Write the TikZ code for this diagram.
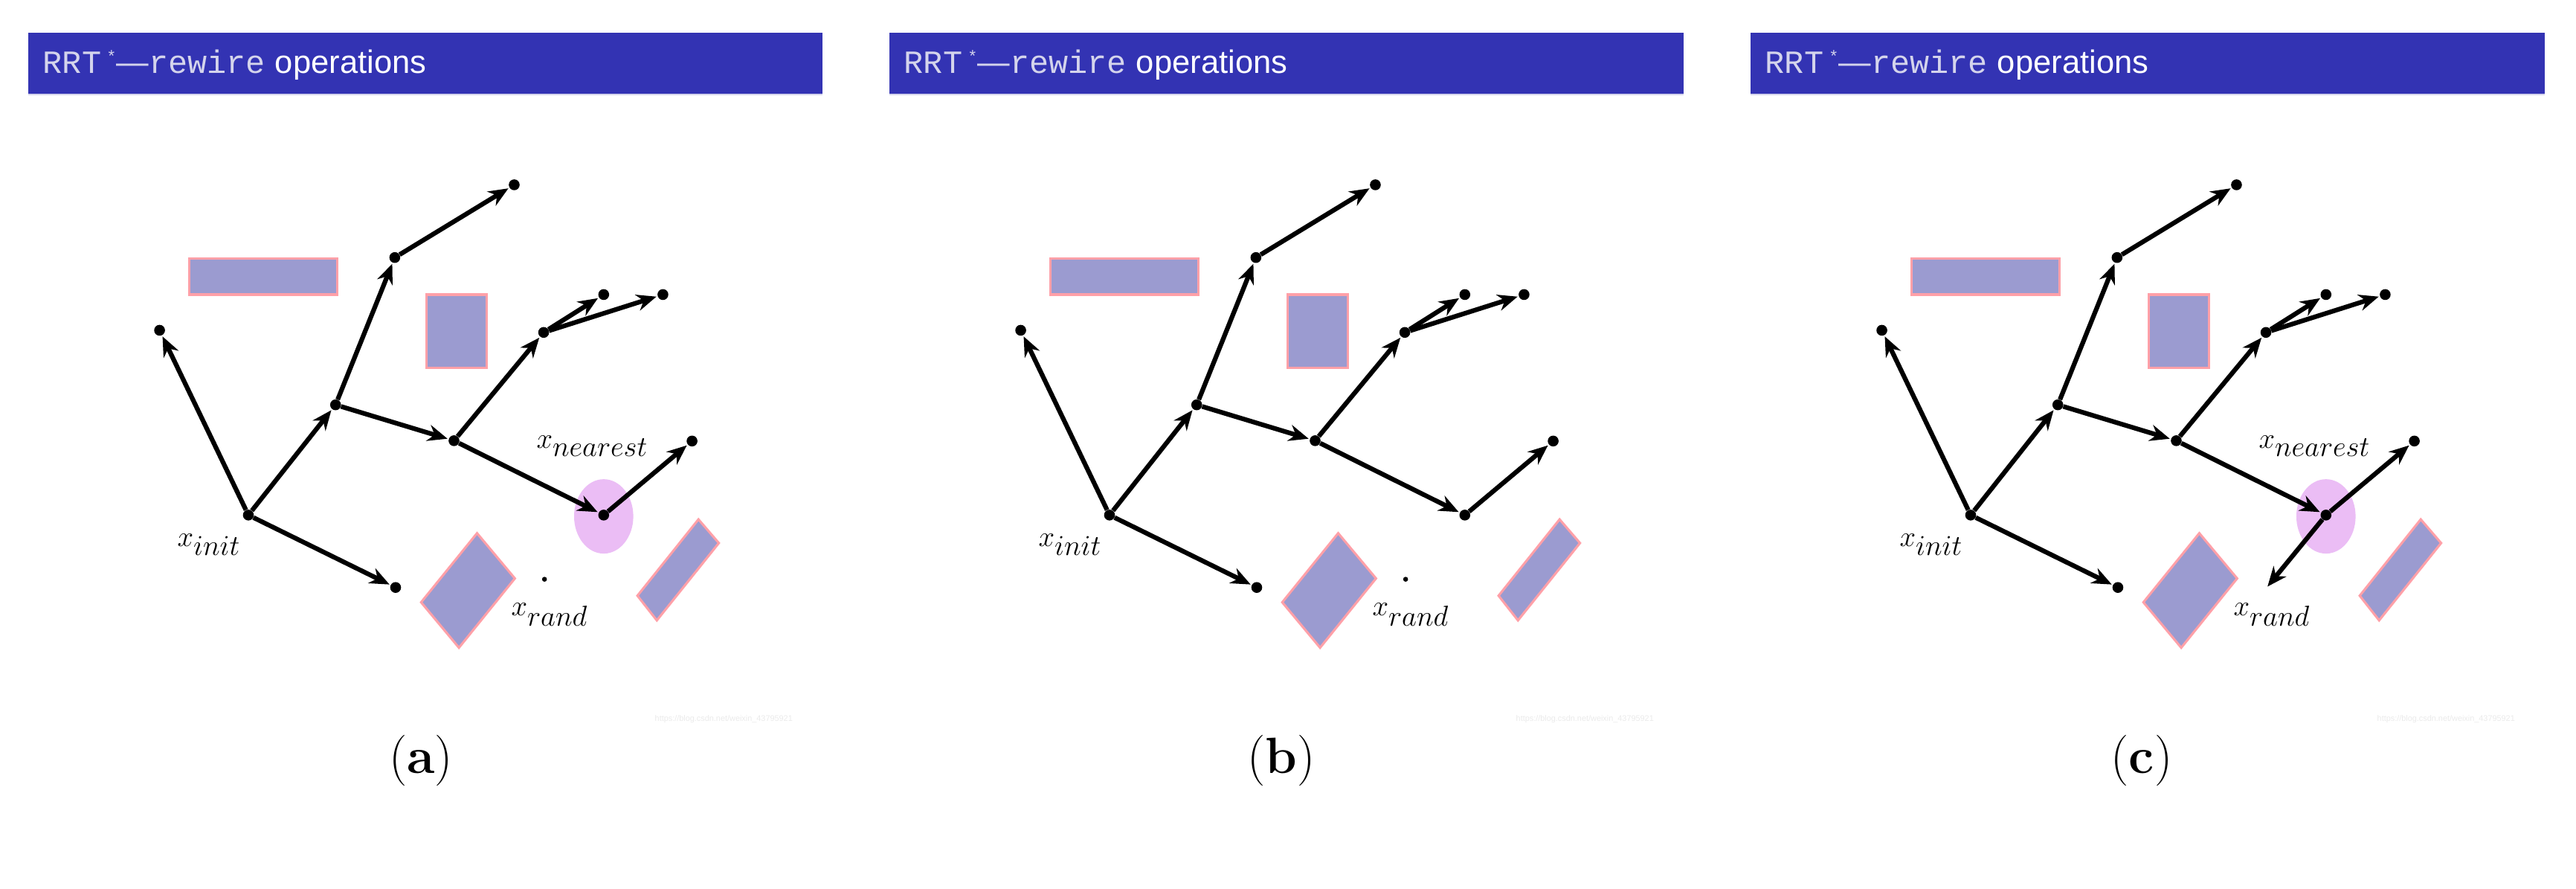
\documentclass[tikz,border=0pt]{standalone}
\usepackage{fontspec}
\setmainfont{Latin Modern Roman}
\newfontfamily\hsans{Liberation Sans}
\newfontfamily\hmono{Liberation Mono}
\usetikzlibrary{arrows.meta}
\definecolor{hdr}{HTML}{3333B3}
\definecolor{obs}{HTML}{9B9BD0}
\definecolor{obsb}{HTML}{FFA0A8}
\definecolor{ell}{HTML}{EBBDF5}
\definecolor{hmt}{HTML}{D4D4EC}
\tikzset{
  dot/.style={circle,fill=black,inner sep=0pt,minimum size=0.33cm},
  edge/.style={line width=4pt,-{Stealth[length=0.6cm,width=0.5cm]},shorten >=1pt},
  obstacle/.style={fill=obs,draw=obsb,line width=2pt},
  lbl/.style={font=\fontsize{42}{50}\selectfont},
  panelcap/.style={font=\fontsize{44}{52}\selectfont},
}
\newcommand{\rrtpanel}[3]{%
\begin{scope}[xshift=#1*0.05cm]
  \fill[hdr] (17,20) rectangle (500,57);
  \draw[hmt,line width=1pt] (17,57.5) -- (500,57.5);
  \node[anchor=west,text=white,inner sep=0pt] (#2-title) at (26,39.5)
    {\fontsize{28}{32}\selectfont{\hmono\color{hmt}RRT\,\raisebox{0.35em}{\fontsize{14}{16}\selectfont*}}{\hsans\color{hmt}—}{\hmono\color{hmt}rewire} {\hsans operations}};
  \draw[obstacle] (115,157) rectangle (205,179);
  \draw[obstacle] (259.3,179) rectangle (296,223.6);
  \draw[obstacle] (290,324) -- (313,351.5) -- (279,393.6) -- (256,366) -- cycle;
  \draw[obstacle] (424.6,315.6) -- (437,330) -- (399.3,377) -- (387.5,362) -- cycle;
  \ifnum#3=1 \fill[ell] (367,313.8) ellipse [x radius=18, y radius=22.6];\fi
  \ifnum#3=3 \fill[ell] (367,313.8) ellipse [x radius=18, y radius=22.6];\fi
  \node[dot] (#2-i) at (151,313) {};
  \node[dot] (#2-L) at (97,200.7) {};
  \node[dot] (#2-A) at (204,246) {};
  \node[dot] (#2-B) at (240,156.5) {};
  \node[dot] (#2-C) at (312.6,112.3) {};
  \node[dot] (#2-D) at (276,267.8) {};
  \node[dot] (#2-E) at (330.5,202) {};
  \node[dot] (#2-F) at (367,179) {};
  \node[dot] (#2-G) at (403,179) {};
  \node[dot] (#2-N) at (367,313) {};
  \node[dot] (#2-H) at (420.7,268) {};
  \node[dot] (#2-Bot) at (240.5,357) {};
  \draw[edge] (#2-i) -- (#2-L);
  \draw[edge] (#2-i) -- (#2-A);
  \draw[edge] (#2-i) -- (#2-Bot);
  \draw[edge] (#2-A) -- (#2-B);
  \draw[edge] (#2-B) -- (#2-C);
  \draw[edge] (#2-A) -- (#2-D);
  \draw[edge] (#2-D) -- (#2-E);
  \draw[edge] (#2-E) -- (#2-F);
  \draw[edge] (#2-E) -- (#2-G);
  \draw[edge] (#2-D) -- (#2-N);
  \draw[edge] (#2-N) -- (#2-H);
  \node[lbl] (#2-li) at (127,331) {$x_{init}$};
  \ifnum#3=3
    \coordinate (#2-R) at (331,357);
    \draw[edge] (#2-N) -- (#2-R);
  \else
    \node[circle,fill=black,inner sep=0pt,minimum size=0.15cm] (#2-R) at (331,352) {};
  \fi
  \node[lbl] (#2-lr) at (334,373.6) {$x_{rand}$};
  \ifnum#3=2\else \node[lbl] (#2-ln) at (360,271) {$x_{nearest}$};\fi
  \node[text=black!8,font=\fontsize{7}{8}\selectfont\hsans] (#2-wm) at (440,437) {https://blog.csdn.net/weixin\_43795921};
\end{scope}}
\begin{document}
\begin{tikzpicture}[x=0.05cm,y=-0.05cm]
\useasboundingbox (0,0) rectangle (1566,540);
\fill[white] (0,0) rectangle (1566,540);
\rrtpanel{0}{a}{1}
\rrtpanel{523.5}{b}{2}
\rrtpanel{1047}{c}{3}
\node[panelcap] (capa) at (256,462) {(\textbf{a})};
\node[panelcap] (capb) at (779,462) {(\textbf{b})};
\node[panelcap] (capc) at (1302,462) {(\textbf{c})};
\end{tikzpicture}
\end{document}
